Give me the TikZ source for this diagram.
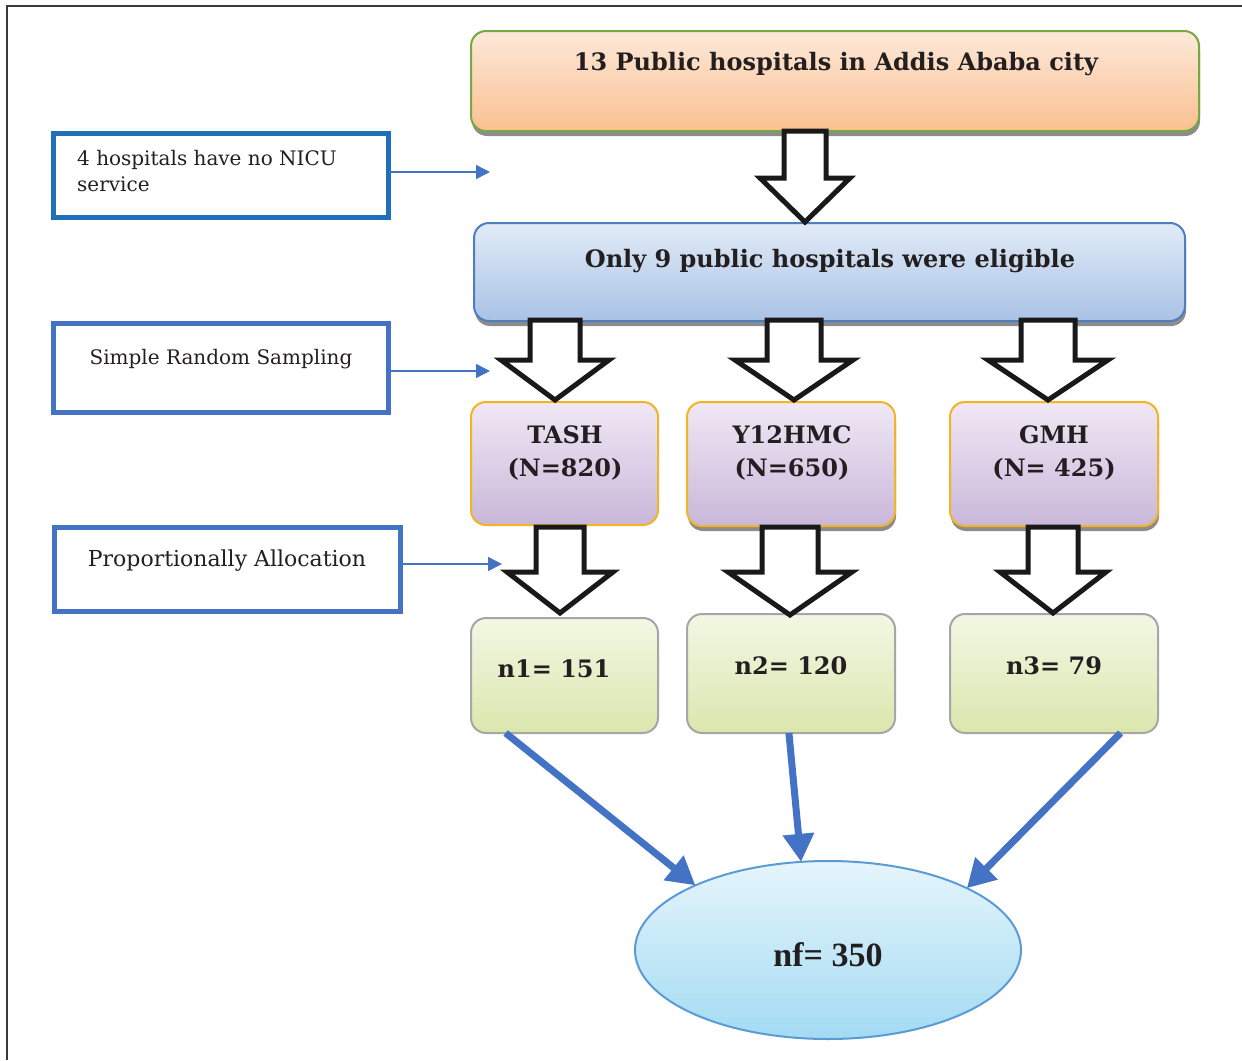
\documentclass[tikz,border=0pt]{standalone}
\usepackage{fontspec}
\setmainfont{DejaVu Serif}
\newfontfamily\timesfont{Liberation Serif}
\usetikzlibrary{arrows.meta,shadows,calc,shapes.geometric}
\definecolor{txt}{HTML}{231F20}
\definecolor{frame}{HTML}{3A3A3A}
\definecolor{greenb}{HTML}{77A943}
\definecolor{peachT}{HTML}{FDE9DA}
\definecolor{peachB}{HTML}{FAC090}
\definecolor{blueb}{HTML}{4F7EC0}
\definecolor{lbT}{HTML}{E1EBF6}
\definecolor{lbB}{HTML}{A9C2E6}
\definecolor{orb}{HTML}{F4B323}
\definecolor{lavT}{HTML}{F0E8F5}
\definecolor{lavB}{HTML}{C9B7D9}
\definecolor{grb}{HTML}{A6A6A6}
\definecolor{ygT}{HTML}{F3F7E4}
\definecolor{ygB}{HTML}{DBE6AD}
\definecolor{arrowblue}{HTML}{4472C4}
\definecolor{box1b}{HTML}{1F70B8}
\definecolor{ellb}{HTML}{5B9BD5}
\definecolor{ellT}{HTML}{E6F5FC}
\definecolor{ellB}{HTML}{A3DBF3}
\tikzset{
  rbox/.style={rectangle, rounded corners=15pt, line width=2pt, inner sep=0pt, outer sep=0pt},
  shad/.style={drop shadow={shadow xshift=1pt, shadow yshift=-5pt, fill=black!45, opacity=1}},
  topbox/.style={rbox, draw=greenb, top color=peachT, bottom color=peachB},
  eligbox/.style={rbox, draw=blueb, top color=lbT, bottom color=lbB},
  hospbox/.style={rbox, draw=orb, top color=lavT, bottom color=lavB},
  nbox/.style={rbox, draw=grb, top color=ygT, bottom color=ygB},
  sidebox/.style={rectangle, draw=arrowblue, line width=5pt, inner sep=0pt, outer sep=0pt},
  hdr/.style={text=txt, font=\fontsize{24}{29}\selectfont\bfseries, inner sep=0pt},
  side/.style={text=txt, font=\fontsize{20}{26}\selectfont, inner sep=0pt},
  blockarrow/.style={draw=black!90, line width=5pt, fill=white, line join=miter},
  thin/.style={draw=arrowblue, line width=1.5pt, -{Triangle[length=14pt,width=14pt]}},
  thick/.style={draw=arrowblue, line width=7pt, -{Triangle[length=28pt,width=30pt]}},
}
\newcommand{\blockarr}[6]{%
  \draw[blockarrow] ({#1-#5},#2) -- ({#1-#5},#3) -- ({#1-#6},#3) -- (#1,#4)
    -- ({#1+#6},#3) -- ({#1+#5},#3) -- ({#1+#5},#2) -- cycle;}
\begin{document}
\begin{tikzpicture}[x=1pt,y=-1pt]
\useasboundingbox (0,0) rectangle (1242,1060);
% frame
\draw[frame, line width=1.5pt] (7,1060) -- (7,6) -- (1242,6);
% main boxes
\node[topbox, shad, minimum width=728pt, minimum height=100pt] (top) at (835,81) {};
\node[hdr] (toptxt) at (836,64) {13 Public hospitals in Addis Ababa city};
\node[eligbox, shad, minimum width=711pt, minimum height=98pt] (elig) at (829.5,272) {};
\node[hdr] (eligtxt) at (830,261) {Only 9 public hospitals were eligible};
\node[hospbox, minimum width=187pt, minimum height=123pt] (tash) at (564.5,463.5) {};
\node[hospbox, shad, minimum width=208pt, minimum height=124pt] (yhmc) at (791,464) {};
\node[hospbox, shad, minimum width=208pt, minimum height=124pt] (gmh) at (1054,464) {};
\node[hdr, align=center] (tashtxt) at (565,453) {TASH\\[4pt](N=820)};
\node[hdr, align=center] (yhmctxt) at (792,453) {Y12HMC\\[4pt](N=650)};
\node[hdr, align=center] (gmhtxt) at (1054,453) {GMH\\[4pt](N= 425)};
\node[nbox, minimum width=187pt, minimum height=115pt] (n1) at (564.5,675.5) {};
\node[nbox, minimum width=208pt, minimum height=119pt] (n2) at (791,673.5) {};
\node[nbox, minimum width=208pt, minimum height=119pt] (n3) at (1054,673.5) {};
\node[hdr] (n1txt) at (554,669) {n1= 151};
\node[hdr] (n2txt) at (791,666) {n2= 120};
\node[hdr] (n3txt) at (1054,666) {n3= 79};
\node[ellipse, draw=ellb, line width=2pt, top color=ellT, bottom color=ellB,
      minimum width=386pt, minimum height=178pt, inner sep=0pt, outer sep=0pt] (nf) at (828,950) {};
\node[text=txt, font=\timesfont\fontsize{34}{40}\selectfont\bfseries, inner sep=0pt] (nftxt) at (828,955) {nf= 350};
% block arrows
\blockarr{805}{131}{178}{222}{21}{45}
\blockarr{555}{320}{360}{400}{25}{54}
\blockarr{794}{320}{360}{400}{27}{59}
\blockarr{1048}{320}{360}{400}{27}{60}
\blockarr{560}{527}{572}{613}{24}{53}
\blockarr{790}{527}{572}{615}{28}{62}
\blockarr{1053}{527}{572}{613}{25}{53}
% side boxes
\node[sidebox, draw=box1b, minimum width=335pt, minimum height=84pt] (s1) at (221,175) {};
\node[side, align=left, anchor=north west] (s1txt) at (77,150) {4 hospitals have no NICU\\service};
\node[sidebox, minimum width=335pt, minimum height=89pt] (s2) at (221,367.5) {};
\node[side] (s2txt) at (221,359) {Simple Random Sampling};
\node[sidebox, minimum width=346pt, minimum height=84pt] (s3) at (227,569) {};
\node[side, font=\fontsize{22}{26}\selectfont] (s3txt) at (227,561) {Proportionally Allocation};
\coordinate (c1) at (490,172);
\coordinate (c2) at (490,371);
\coordinate (c3) at (502,564);
\draw[thin] (s1.east |- c1) -- (c1);
\draw[thin] (s2.east |- c2) -- (c2);
\draw[thin] (s3.east |- c3) -- (c3);
% thick arrows to final
\draw[thick] ($(n1.south west)!0.185!(n1.south east)$) -- (nf.154.5);
\draw[thick] ($(n2.south west)!0.49!(n2.south east)$) -- (nf.107);
\draw[thick] ($(n3.south west)!0.82!(n3.south east)$) -- (nf.24);
\end{tikzpicture}
\end{document}
